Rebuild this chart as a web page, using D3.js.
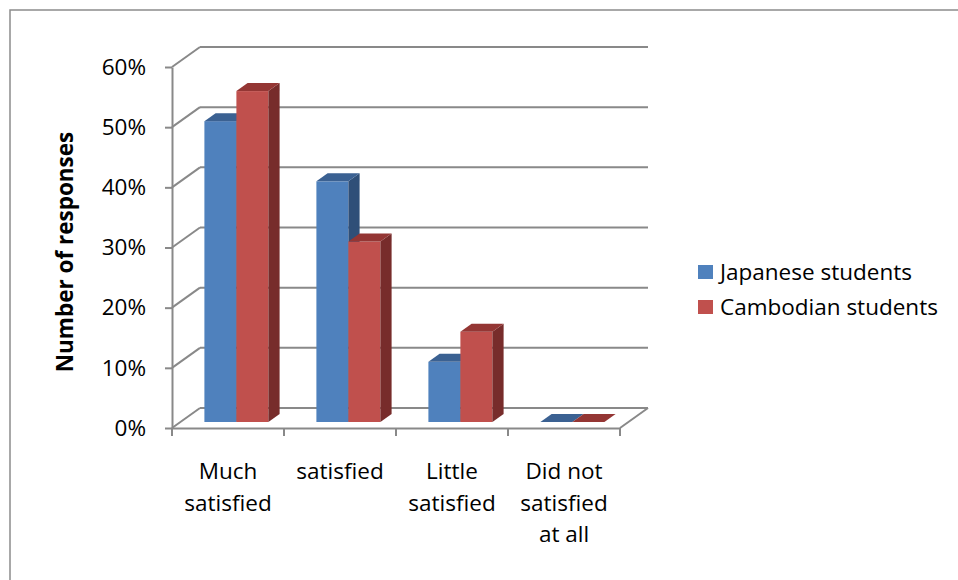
<!DOCTYPE html>
<html>
<head>
<meta charset="utf-8">
<script src="https://cdn.jsdelivr.net/npm/d3@7"></script>
<style>
  body { margin: 0; background: #fff; }
  svg { display: block; font-family: 'Open Sans', sans-serif; }
  .chart text { font-family: 'Open Sans', sans-serif; fill: #000; }
  .tick text { font-size: 22.5px; }
</style>
</head>
<body>
<svg class="chart" width="958" height="580"></svg>
<script>
const categories = ['Much satisfied', 'satisfied', 'Little satisfied', 'Did not satisfied at all'];
const categoryLines = [['Much', 'satisfied'], ['satisfied'], ['Little', 'satisfied'], ['Did not', 'satisfied', 'at all']];
const seriesNames = ['Japanese students', 'Cambodian students'];
const japaneseValues = [0.50, 0.40, 0.10, 0];
const cambodianValues = [0.55, 0.30, 0.15, 0];
const yTicks = [0, 0.1, 0.2, 0.3, 0.4, 0.5, 0.6];

const colors = {
  'Japanese students': { front: '#4f81bd', top: '#3b6192', side: '#2f4f78' },
  'Cambodian students': { front: '#c0504d', top: '#943634', side: '#772c2b' },
};
const gridColor = '#898989';

const startApp = () => {
  const svg = d3.select('.chart');
  const plot = { left: 172, right: 620, top: 67, bottom: 428 };
  const depth = { dx: 28, dy: -20 };
  const barDepth = { front: 0.3, back: 0.7 };

  const x0 = d3.scaleBand().domain(categories).range([plot.left, plot.right]);
  const x1 = d3.scaleBand().domain(seriesNames).range([0, x0.bandwidth()]).paddingOuter(0.75);
  const y = d3.scaleLinear().domain([0, 0.6]).range([plot.bottom, plot.top]);

  const series = seriesNames.map((name, i) => ({
    name,
    values: categories.map((category, j) => ({
      category, value: [japaneseValues, cambodianValues][i][j],
    })),
  }));

  // outer frame (right and bottom run off the picture)
  svg.append('rect')
    .attr('x', 10).attr('y', 10).attr('width', 1000).attr('height', 1000)
    .attr('fill', 'none').attr('stroke', '#8c8c8c').attr('stroke-width', 1.5);

  // back wall gridlines + side wall diagonals
  const grid = svg.append('g').attr('stroke', gridColor).attr('stroke-width', 2).attr('fill', 'none');
  yTicks.forEach((t) => {
    grid.append('line')
      .attr('x1', plot.left + depth.dx).attr('x2', plot.right + depth.dx)
      .attr('y1', y(t) + depth.dy).attr('y2', y(t) + depth.dy);
    grid.append('line')
      .attr('x1', plot.left).attr('x2', plot.left + depth.dx)
      .attr('y1', y(t)).attr('y2', y(t) + depth.dy);
  });
  // floor right edge
  grid.append('line')
    .attr('x1', plot.right).attr('x2', plot.right + depth.dx)
    .attr('y1', y(0)).attr('y2', y(0) + depth.dy);

  // y axis
  const yAxis = d3.axisLeft(y).tickValues(yTicks).tickSize(7).tickSizeOuter(0)
    .tickPadding(19).tickFormat(d3.format('.0%'));
  const yG = svg.append('g').attr('transform', `translate(${plot.left}, 0)`).call(yAxis);
  yG.selectAll('path, line').attr('stroke', gridColor).attr('stroke-width', 2);

  // x axis: front floor edge, labels under band centres
  const xAxis = d3.axisBottom(x0).tickSize(0).tickSizeOuter(0);
  const xG = svg.append('g').attr('transform', `translate(0, ${plot.bottom})`).call(xAxis);
  xG.select('.domain').attr('stroke', gridColor).attr('stroke-width', 2);
  xG.selectAll('.tick text').each(function (d) {
    const lines = categoryLines[categories.indexOf(d)];
    const text = d3.select(this).text(null).attr('dy', null).attr('y', 51);
    lines.forEach((line, i) => {
      text.append('tspan').attr('x', 0).attr('dy', i === 0 ? 0 : 31.5).text(line);
    });
  });
  const boundaries = categories.map(c => x0(c)).concat([plot.right]);
  xG.selectAll('.boundary')
    .data(boundaries)
    .enter()
    .append('line')
    .attr('x1', d => d).attr('x2', d => d)
    .attr('y1', 0).attr('y2', 8)
    .attr('stroke', gridColor).attr('stroke-width', 2);

  // bars, drawn as front / top / side faces
  const fx = depth.dx * barDepth.front;
  const fy = depth.dy * barDepth.front;
  const bx = depth.dx * (barDepth.back - barDepth.front);
  const by = depth.dy * (barDepth.back - barDepth.front);

  categories.forEach((category, j) => {
    series.forEach(({ name, values }) => {
      const { value } = values[j];
      const xl = x0(category) + x1(name) + fx;
      const xr = xl + x1.bandwidth();
      const yt = y(value) + fy;
      const yb = y(0) + fy;
      const g = svg.append('g').attr('class', 'bar');
      if (value > 0) {
        g.append('rect')
          .attr('x', xl).attr('y', yt).attr('width', xr - xl).attr('height', yb - yt)
          .attr('fill', colors[name].front);
        g.append('path')
          .attr('d', `M${xr},${yt}L${xr + bx},${yt + by}L${xr + bx},${yb + by}L${xr},${yb}Z`)
          .attr('fill', colors[name].side);
      }
      g.append('path')
        .attr('d', `M${xl},${yt}L${xr},${yt}L${xr + bx},${yt + by}L${xl + bx},${yt + by}Z`)
        .attr('fill', colors[name].top);
    });
  });

  // y axis title
  svg.append('text')
    .attr('transform', 'translate(73, 252) rotate(-90)')
    .attr('text-anchor', 'middle')
    .style('font-size', '22.5px')
    .style('font-weight', 'bold')
    .text('Number of responses');

  // legend
  const legend = svg.append('g').attr('transform', 'translate(698, 265)');
  const items = legend.selectAll('g')
    .data(seriesNames)
    .enter()
    .append('g')
    .attr('transform', (d, i) => `translate(0, ${i * 35})`);
  items.append('rect').attr('width', 15).attr('height', 14).attr('fill', d => colors[d].front);
  items.append('text')
    .attr('x', 22).attr('y', 15)
    .style('font-size', '22.5px')
    .text(d => d);
};

window.onload = startApp;
</script>
</body>
</html>
